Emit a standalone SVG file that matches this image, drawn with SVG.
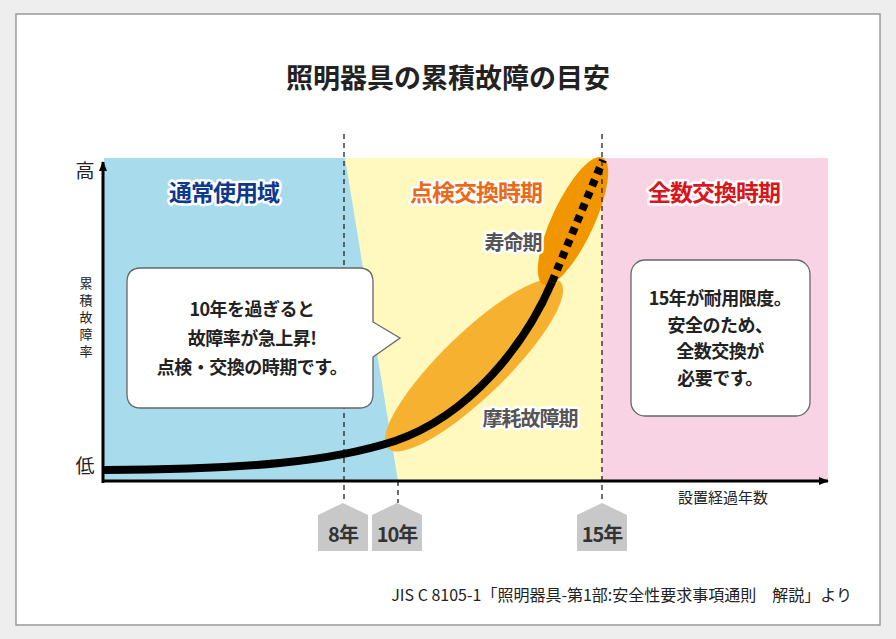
<svg xmlns="http://www.w3.org/2000/svg" width="896" height="639" viewBox="0 0 896 639">
<style>
text{font-family:"Noto Sans CJK JP","Noto Sans",sans-serif;font-weight:bold}
.dash{stroke:#222;stroke-width:1.3;stroke-dasharray:5,4;fill:none}
.badge{fill:#c8c8c8}
.bt{font-size:20px;fill:#333;text-anchor:middle;letter-spacing:-1px}
.zone{font-size:23px;text-anchor:middle;stroke:#fff;stroke-width:5;paint-order:stroke;stroke-linejoin:round;letter-spacing:-1px}
.lab{font-size:20px;fill:#555;text-anchor:middle;stroke:#fff;stroke-width:5;paint-order:stroke;stroke-linejoin:round;letter-spacing:-1px}
.box{fill:#fff;stroke:#666;stroke-width:1.3}
.bx{font-size:18px;fill:#222;text-anchor:middle;letter-spacing:-0.5px}
.vy{font-size:13px;fill:#222;text-anchor:middle;font-weight:normal}
</style>
<defs>
<marker id="ar" markerWidth="10" markerHeight="8" refX="9" refY="4" orient="auto" markerUnits="userSpaceOnUse"><path d="M0,0L10,4L0,8z" fill="#000"/></marker>
</defs>
<rect width="896" height="639" fill="#eeeeee"/>
<rect x="16" y="14" width="864" height="611" fill="#fff" stroke="#999" stroke-width="1.5"/>
<text x="448" y="88" font-size="27" text-anchor="middle" fill="#222">照明器具の累積故障の目安</text>
<g id="zones">
<rect x="104" y="158" width="724" height="323" fill="#fff9bf"/>
<polygon points="104,158 345,158 398,481 104,481" fill="#a8dcec"/>
<rect x="602" y="158" width="226" height="323" fill="#f7d3e4"/>
</g>
<g id="ellipses">
<ellipse cx="474" cy="365" rx="120" ry="32" transform="rotate(-44 474 365)" fill="#f5b12f"/>
<ellipse cx="573" cy="221" rx="70" ry="21" transform="rotate(-65 573 221)" fill="#f29600"/>
</g>
<g id="connectors">
<line class="dash" x1="344" y1="134" x2="344" y2="503"/>
<line class="dash" x1="398" y1="481" x2="398" y2="503"/>
<line class="dash" x1="602" y1="134" x2="602" y2="503"/>
<path d="M104,470 C250,469 330,462 395,441 C470,415 525,345 552,282" fill="none" stroke="#000" stroke-width="8"/>
<path d="M552,282 L603,160" fill="none" stroke="#000" stroke-width="8" stroke-dasharray="7,6"/>
<line x1="103" y1="483" x2="103" y2="162" stroke="#000" stroke-width="3" marker-end="url(#ar)"/>
<line x1="102" y1="481" x2="828" y2="481" stroke="#000" stroke-width="3" marker-end="url(#ar)"/>
</g>
<text x="85" y="178" font-size="19" text-anchor="middle" fill="#222" style="font-weight:normal">高</text>
<text x="85" y="473" font-size="19" text-anchor="middle" fill="#222" style="font-weight:normal">低</text>
<g id="y-label">
<text class="vy" x="86" y="288">累</text>
<text class="vy" x="86" y="305">積</text>
<text class="vy" x="86" y="322">故</text>
<text class="vy" x="86" y="339">障</text>
<text class="vy" x="86" y="356">率</text>
</g>
<text x="723" y="503" font-size="15" text-anchor="middle" fill="#222" style="font-weight:normal">設置経過年数</text>
<g id="zone-labels">
<text class="zone" x="224" y="201" fill="#0d3a8c">通常使用域</text>
<text class="zone" x="476" y="201" fill="#ea6a1a">点検交換時期</text>
<text class="zone" x="714" y="201" fill="#d9151e">全数交換時期</text>
<text class="lab" x="513" y="250">寿命期</text>
<text class="lab" x="530" y="426">摩耗故障期</text>
</g>
<g id="callout-left">
<path class="box" d="M141,268 H359 Q373,268 373,282 V322 L400,338 L373,357 V394 Q373,408 359,408 H141 Q127,408 127,394 V282 Q127,268 141,268 Z"/>
<text class="bx"><tspan x="252" y="316">10年を過ぎると</tspan><tspan x="252" y="345">故障率が急上昇!</tspan><tspan x="252" y="374">点検・交換の時期です。</tspan></text>
</g>
<g id="callout-right">
<rect class="box" x="631" y="260" width="179" height="156" rx="14"/>
<text class="bx"><tspan x="720" y="305">15年が耐用限度。</tspan><tspan x="720" y="332">安全のため、</tspan><tspan x="720" y="358">全数交換が</tspan><tspan x="720" y="385">必要です。</tspan></text>
</g>
<g id="badge-8">
<polygon class="badge" points="318,515 343,503 368,515 368,551 318,551"/>
<text class="bt" x="343" y="542">8年</text>
</g>
<g id="badge-10">
<polygon class="badge" points="372,515 397,503 422,515 422,551 372,551"/>
<text class="bt" x="397" y="542">10年</text>
</g>
<g id="badge-15">
<polygon class="badge" points="577,515 602,503 627,515 627,551 577,551"/>
<text class="bt" x="602" y="542">15年</text>
</g>
<text x="852" y="601" font-size="16" text-anchor="end" fill="#222" style="font-weight:normal">JIS C 8105-1「照明器具-第1部:安全性要求事項通則　解説」より</text>
</svg>
